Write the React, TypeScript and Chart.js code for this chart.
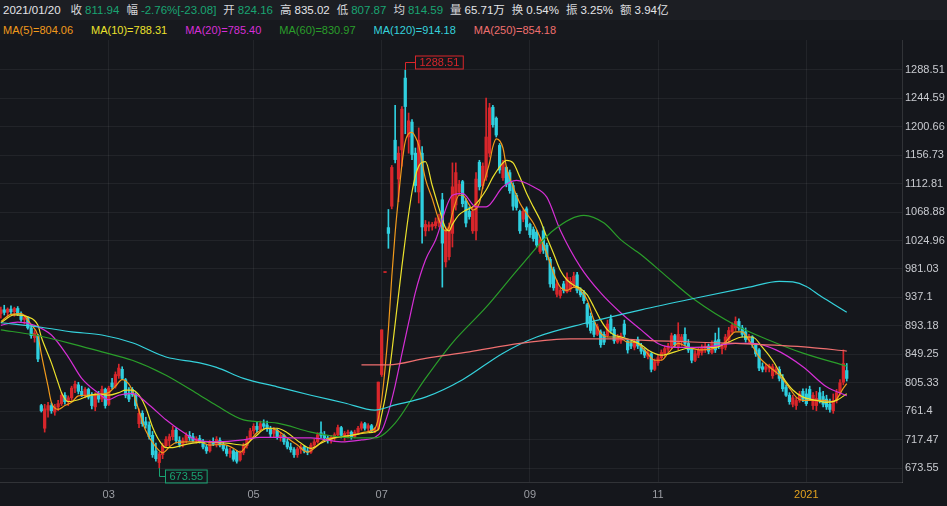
import React, { useEffect, useRef } from "react";
import { Chart, registerables } from "chart.js";

Chart.register(...registerables);

// ---- candle data (index 0 = 2020-01-08 ... index 251 = 2021-01-20) ----
const opens = [912,918,914,919,915,920,911,903,905,890,875,878,770,735,763,770,760,768,773,786,776,782,797,802,792,787,795,785,768,786,780,795,772,805,800,816,826,810,787,795,787,742,758,745,740,724,700,682,694,708,716,722,732,716,710,716,724,722,716,719,714,706,700,712,710,716,709,703,696,700,698,686,697,708,718,731,738,733,742,740,734,727,732,721,724,714,706,702,694,703,706,700,698,709,714,728,724,720,716,721,725,736,724,727,729,722,729,735,742,735,739,731,734,818,975.6,1045,1078,1180,1120,1165,1276,1185,1208,1160,1100,1160,1040,1046,1047,1048,1052,1088,992,1000,1036,1080,1100,1116,1086,1070,1040,1040,1146,1110,1123,1160,1231,1214,1172,1122,1138,1130,1110,1095,1070,1058,1074,1050,1042,1038,1008,1040,1018,996,980,942,940,958,946,950,955,972,948,944,926,908,898,880,884,880,878,904,888,868,870,896,870,866,860,872,862,855,846,850,826,836,844,850,857,862,878,860,870,880,866,858,840,848,852,856,862,852,870,872,858,860,872,884,890,900,890,884,872,876,864,856,830,826,828,816,822,826,812,798,786,772,770,778,792,788,795,770,770,790,784,780,772,762,778,790,806,824.16];
const highs = [922,925,921,924,922,923,915,910,907,894,886,880,772,772,775,774,772,778,790,790,785,800,808,806,800,798,797,790,790,792,800,797,800,812,822,834,830,812,798,798,790,765,762,752,745,730,712,698,712,722,726,738,735,722,720,728,730,727,722,724,718,710,716,720,722,720,714,708,704,702,700,700,712,722,735,742,744,746,748,746,738,736,734,728,726,718,712,705,706,710,708,704,712,718,728,745,730,724,724,728,740,738,730,732,731,732,738,745,744,742,741,736,806.3,887,975.6,1073,1141,1234,1170,1232,1288.51,1222,1212,1168,1199,1170,1056,1054,1053,1060,1066,1098,1046,1052,1145,1145,1118,1118,1090,1077,1077,1130,1149,1145,1245,1237,1234,1216,1175,1149,1139,1134,1114,1098,1072,1074,1077,1052,1046,1041,1030,1046,1021,999,984,964,952,962,975,968,976,976,952,948,928,913,902,896,887,884,902,910,891,880,882,902,871,870,872,876,866,858,856,852,842,848,856,862,866,882,880,898,880,890,872,860,855,860,864,866,865,870,882,890,866,880,891,898,907,904,894,890,880,878,866,858,836,834,834,834,830,830,818,802,790,786,782,792,796,796,800,790,792,798,792,786,780,788,795,810,856,835.02];
const lows = [905,910,906,912,908,909,900,896,888,874,868,838,760,729,752,758,755,762,770,772,770,778,790,788,784,782,780,765,762,775,776,766,770,796,797,812,810,782,776,784,765,736,738,735,718,690,684,673.55,688,705,708,717,712,706,706,712,716,714,712,712,703,696,698,708,706,706,700,692,690,684,681,684,694,704,716,726,728,730,734,730,722,722,718,715,710,703,698,690,690,696,697,694,696,705,712,720,716,712,712,716,722,720,716,720,718,720,726,732,732,731,729,728,732,815,975.6,1013,1074,1145,1085,1140,1190,1160,1150,1100,1083,1021,1032,1040,1041,1044,1046,953,984,995,1015,1072,1096,1077,1046,1058,1036,1026,1103,1105,1118,1154,1200,1185,1129,1118,1108,1098,1072,1072,1036,1054,1041,1030,1024,1015,1005,1005,995,953,948,938,936,944,944,946,953,944,938,928,891,882,876,878,860,864,876,882,866,866,866,876,851,858,856,858,850,844,842,822,824,832,840,846,852,858,860,856,862,862,852,836,838,844,848,852,850,850,852,858,850,856,868,880,886,886,876,868,866,860,846,824,822,822,822,812,818,808,792,784,772,768,764,775,776,770,778,764,762,774,768,764,760,758,774,786,802,807.87];
const closes = [918,914,919,915,920,911,903,906,890,878,882,842,762,765,770,762,768,773,786,776,782,797,803,792,786,795,783,770,786,780,795,770,797,799,818,828,812,786,780,787,770,758,742,740,722,694,688,695,708,718,722,732,716,710,716,724,720,716,719,714,706,700,713,710,718,709,703,696,700,687,684,697,708,718,731,738,733,742,738,734,726,732,721,724,714,706,702,694,703,706,700,698,709,714,725,724,720,716,721,725,736,724,727,729,722,729,735,742,735,739,731,733,806.3,887,975.6,1036,1138,1150,1160,1228,1232,1210,1158,1110,1180,1046,1050,1049,1050,1054,1060,1021,1040,1046,1108,1130,1112,1082,1052,1062,1070,1120,1108,1140,1185,1230,1204,1188,1134,1145,1112,1102,1078,1076,1040,1070,1046,1034,1028,1018,1026,1010,1000,958,952,958,948,948,968,962,970,948,941,932,896,886,880,892,864,868,896,886,870,876,878,880,856,862,868,862,854,848,852,826,838,844,852,858,862,878,864,880,876,866,856,840,850,856,860,862,854,866,856,862,862,876,886,894,900,890,880,872,876,864,850,828,826,830,831,830,826,812,796,786,776,782,778,788,780,773,780,786,781,778,772,768,764,778,790,805.3,835.02,811.94];

// ---- moving averages: [candle index, value] ----
const ma5 = [[0,900],[3,911],[6,912],[9,895],[11,878],[12,850],[14,800],[15,775],[17,764],[19,770],[21,775],[23,785],[26,786],[29,787],[32,790],[34,800],[36,810],[38,803],[39,793],[41,762],[43,731],[46,706],[48,697],[50,706],[52,713],[55,714],[59,714],[62,709],[66,710],[69,704],[71,698],[73,709],[76,728],[79,735],[82,732],[85,720],[88,709],[91,698],[93,704],[96,717],[100,721],[104,724],[108,729],[111,735],[112,750],[113,779],[114,827],[115,888],[116,969],[117,1037],[118,1092],[119,1142],[120,1178],[122,1192],[123,1185],[124,1172],[126,1120],[128,1090],[130,1057],[132,1040],[133,1046],[134,1067],[136,1095],[137,1095],[139,1080],[140,1072],[142,1083],[143,1108],[145,1145],[146,1170],[147,1182],[149,1168],[150,1139],[152,1108],[154,1083],[156,1067],[158,1052],[160,1030],[162,1005],[164,975],[166,953],[168,948],[170,953],[172,948],[174,933],[176,902],[178,882],[180,876],[182,876],[184,874],[186,868],[188,868],[191,856],[194,840],[196,840],[198,851],[201,866],[204,860],[208,856],[212,859],[215,868],[218,884],[220,884],[222,871],[225,845],[228,830],[231,817],[234,797],[236,783],[238,778],[241,778],[244,778],[247,776],[248,780],[249,788],[250,797],[251,804.06]];
const ma10 = [[0,898],[4,910],[8,907],[11,894],[12,876],[15,836],[17,805],[18,790],[20,776],[23,779],[26,785],[29,788],[32,786],[35,790],[37,794],[39,794],[41,786],[43,767],[45,737],[47,716],[49,705],[51,705],[54,709],[57,712],[61,714],[64,713],[67,712],[72,709],[75,720],[79,735],[82,735],[85,728],[89,712],[92,704],[95,712],[99,720],[104,724],[109,728],[112,733],[113,756],[114,781],[115,812],[116,852],[119,985],[122,1100],[124,1140],[126,1147],[128,1110],[130,1075],[132,1044],[133,1040],[134,1050],[136,1065],[138,1072],[140,1077],[142,1088],[144,1103],[146,1123],[149,1145],[150,1149],[152,1145],[154,1123],[156,1098],[158,1077],[160,1057],[162,1030],[164,1005],[166,979],[168,964],[170,956],[172,951],[174,941],[176,922],[178,902],[180,887],[182,879],[184,876],[187,871],[190,864],[192,856],[196,848],[200,853],[204,859],[208,860],[212,860],[216,868],[220,876],[223,876],[226,860],[229,840],[232,814],[235,794],[238,783],[242,778],[245,775],[248,778],[251,788.31]];
const ma20 = [[0,894],[5,899],[10,894],[15,879],[20,845],[24,812],[29,789],[32,779],[35,786],[39,789],[44,771],[49,748],[54,729],[58,717],[64,714],[72,717],[77,721],[82,721],[87,720],[92,720],[101,714],[107,717],[111,721],[113,731],[115,760],[117,801],[119,850],[121,898],[123,945],[126,995],[129,1026],[134,1095],[137,1098],[141,1077],[144,1077],[149,1108],[153,1118],[158,1108],[162,1092],[166,1041],[172,984],[178,944],[184,913],[190,887],[195,866],[200,860],[208,860],[218,866],[223,866],[230,856],[238,830],[245,799],[251,785.4]];
const ma60 = [[0,887],[10,879],[20,867],[30,853],[39,840],[49,817],[59,786],[64,770],[72,748],[82,743],[92,729],[102,721],[111,720],[117,743],[123,789],[126,812],[134,867],[144,922],[154,984],[164,1041],[173,1064],[179,1052],[184,1026],[190,1003],[197,972],[206,933],[218,894],[228,871],[238,851],[251,830.97]];
const ma120 = [[0,898],[12,891],[21,884],[30,879],[39,867],[49,845],[59,836],[64,829],[72,812],[82,799],[92,786],[102,774],[111,763],[117,771],[126,783],[137,810],[149,851],[159,876],[174,898],[190,918],[207,937],[222,953],[231,962],[235,961],[239,954],[243,940],[247,927],[251,914.18]];
const ma250 = [[107,833],[115,833],[126,843],[139,853],[154,866],[169,873],[184,873],[190,871],[218,866],[240,860],[251,854.18]];

// ---- axes ----
const yTicks = [673.55,717.47,761.4,805.33,849.25,893.18,937.1,981.03,1024.96,1068.88,1112.81,1156.73,1200.66,1244.59,1288.51];
const monthTickIdx = [32,75,113,157,195,239];
const monthTickLabels = ["03","05","07","09","11","2021"];

// ---- header texts ----
const headerDate = "2021/01/20";
const headerLabels = ["收","幅","开","高","低","均","量","换","振","额"];
const headerValues = ["811.94","-2.76%[-23.08]","824.16","835.02","807.87","814.59","65.71万","0.54%","3.25%","3.94亿"];
const headerValueDown = [true,true,true,false,true,true,false,false,false,false];
const maNames = ["MA(5)","MA(10)","MA(20)","MA(60)","MA(120)","MA(250)"];
const maValues = ["804.06","788.31","785.40","830.97","914.18","854.18"];

const UP = "#d8262b";
const DOWN = "#2fcfdf";
const GREEN_TXT = "#19a472";
const MA_COLORS = ["#f19a1c","#ece22c","#d62fd6","#2a9e2a","#35d2dc","#ef6f6f"];
const BG = "#15171c";
const FONT = '"Liberation Sans", Arial, "Noto Sans CJK SC", sans-serif';

export default function App() {
  const ref = useRef<HTMLCanvasElement | null>(null);

  useEffect(() => {
    document.body.style.margin = "0";
    document.body.style.background = BG;
    const canvas = ref.current;
    if (!canvas) return;

    const idx = closes.map((_, i) => i);
    const colors = idx.map((i) => (closes[i] >= opens[i] ? UP : DOWN));
    const maSets = [ma5, ma10, ma20, ma60, ma120, ma250].map((arr, k) => ({
      type: "line" as const,
      label: maNames[k],
      data: arr.map(([i, v]) => ({ x: i, y: v })),
      borderColor: MA_COLORS[k],
      borderWidth: 1.2,
      pointRadius: 0,
      fill: false,
      cubicInterpolationMode: "monotone" as const,
      order: 1 + (5 - k) * 0.1,
    }));

    const extrema = {
      id: "extrema",
      afterDatasetsDraw(chart: any) {
        const { ctx, scales } = chart;
        const x = scales.x, y = scales.y;
        let maxI = 0, minI = 0;
        for (let i = 0; i < highs.length; i++) {
          if (highs[i] > highs[maxI]) maxI = i;
          if (lows[i] < lows[minI]) minI = i;
        }
        ctx.save();
        ctx.font = "11px " + FONT;
        ctx.lineWidth = 1;
        ctx.textBaseline = "middle";
        {
          const px = Math.round(x.getPixelForValue(maxI)) + 0.5;
          const py = y.getPixelForValue(highs[maxI]);
          const t = highs[maxI].toFixed(2);
          const w = ctx.measureText(t).width;
          const ly = Math.round(py - 8) + 0.5;
          ctx.strokeStyle = UP;
          ctx.fillStyle = UP;
          ctx.beginPath();
          ctx.moveTo(px, py);
          ctx.lineTo(px, ly);
          ctx.lineTo(px + 10, ly);
          ctx.stroke();
          ctx.strokeRect(px + 10, ly - 6.5, w + 8, 13);
          ctx.fillText(t, px + 14, ly + 0.5);
        }
        {
          const px = Math.round(x.getPixelForValue(minI)) + 0.5;
          const py = y.getPixelForValue(lows[minI]);
          const t = lows[minI].toFixed(2);
          const w = ctx.measureText(t).width;
          const ly = Math.round(py + 8) + 0.5;
          ctx.strokeStyle = GREEN_TXT;
          ctx.fillStyle = GREEN_TXT;
          ctx.beginPath();
          ctx.moveTo(px, py);
          ctx.lineTo(px, ly);
          ctx.lineTo(px + 6, ly);
          ctx.stroke();
          ctx.strokeRect(px + 6, ly - 6.5, w + 8, 13);
          ctx.fillText(t, px + 10, ly + 0.5);
        }
        ctx.restore();
      },
    };

    const gridColor = "rgba(255,255,255,0.06)";
    const chart = new Chart(canvas, {
      type: "bar",
      data: {
        datasets: [
          ...maSets,
          {
            type: "bar",
            label: "wick",
            data: idx.map((i) => ({ x: i, y: [lows[i], highs[i]] })),
            backgroundColor: colors,
            barThickness: 1,
            grouped: false,
            order: 3,
          } as any,
          {
            type: "bar",
            label: "body",
            data: idx.map((i) => ({ x: i, y: [opens[i], closes[i]] })),
            backgroundColor: colors,
            barThickness: 2.6,
            minBarLength: 1,
            grouped: false,
            order: 2,
          } as any,
        ],
      },
      options: {
        animation: false,
        responsive: false,
        maintainAspectRatio: false,
        layout: { padding: { top: 40, left: 0, right: 0, bottom: 0 } },
        plugins: { legend: { display: false }, tooltip: { enabled: false } },
        scales: {
          x: {
            type: "linear",
            min: -0.255,
            max: 267.4,
            offset: false,
            grid: { color: gridColor, drawTicks: false, offset: false },
            border: { color: "rgba(255,255,255,0.12)" },
            afterBuildTicks: (s: any) => {
              s.ticks = monthTickIdx.map((v) => ({ value: v }));
            },
            ticks: {
              autoSkip: false,
              maxRotation: 0,
              padding: 6,
              font: { size: 11, family: FONT },
              color: (c: any) => (monthTickLabels[c.index] === "2021" ? "#e2a21f" : "#9b9da3"),
              callback: (v: any) => monthTickLabels[monthTickIdx.indexOf(Number(v))] ?? "",
            },
            afterFit: (s: any) => {
              s.height = 24;
            },
          },
          y: {
            position: "right",
            min: 651.92,
            max: 1334.86,
            grid: { color: gridColor, drawTicks: false },
            border: { color: "rgba(255,255,255,0.12)" },
            afterBuildTicks: (s: any) => {
              s.ticks = yTicks.map((v) => ({ value: v }));
            },
            ticks: {
              padding: 3,
              font: { size: 11, family: FONT },
              color: "#c9cbd0",
              callback: (v: any) => String(v),
            },
            afterFit: (s: any) => {
              s.width = 45;
            },
          },
        },
      } as any,
      plugins: [extrema],
    });
    return () => chart.destroy();
  }, []);

  const row: React.CSSProperties = {
    position: "absolute",
    left: 0,
    width: 947,
    height: 20,
    lineHeight: "20px",
    whiteSpace: "nowrap",
    fontFamily: FONT,
    paddingLeft: 3,
    boxSizing: "border-box",
  };

  return (
    <div style={{ position: "relative", width: 947, height: 506, background: BG, overflow: "hidden" }}>
      <canvas ref={ref} width={947} height={506} style={{ display: "block", width: 947, height: 506 }} />
      <div style={{ ...row, top: 0, background: "#1c1e23", fontSize: 11.5, color: "#e4e5e8" }}>
        <span style={{ marginRight: 10 }}>{headerDate}</span>
        {headerLabels.map((l, k) => (
          <span key={k} style={{ marginRight: 7 }}>
            <span style={{ color: "#d6d7db" }}>{l}</span>
            <span style={{ marginLeft: 3, color: headerValueDown[k] ? GREEN_TXT : "#e4e5e8" }}>{headerValues[k]}</span>
          </span>
        ))}
      </div>
      <div style={{ ...row, top: 20, background: "#17191e", fontSize: 11 }}>
        {maNames.map((n, k) => (
          <span key={k} style={{ marginRight: 18, color: MA_COLORS[k] }}>
            {n}={maValues[k]}
          </span>
        ))}
      </div>
    </div>
  );
}
